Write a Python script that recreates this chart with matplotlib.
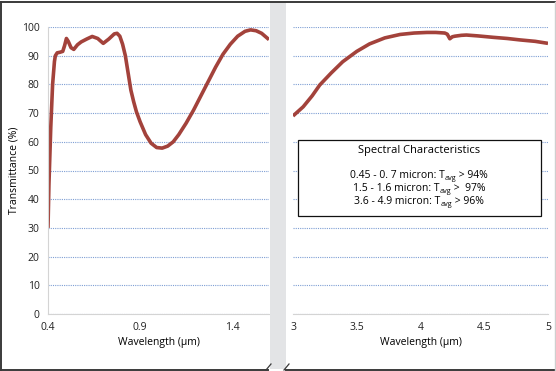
import matplotlib
matplotlib.use("Agg")
import matplotlib.pyplot as plt
from matplotlib.patches import Rectangle
from matplotlib.lines import Line2D

plt.rcParams['font.family'] = ['Open Sans', 'DejaVu Sans']

# visible / near-IR part
wl_vis = [0.40, 0.405, 0.415, 0.425, 0.435, 0.44, 0.45, 0.465, 0.48, 0.49, 0.50, 0.51,
          0.525, 0.54, 0.56, 0.58, 0.61, 0.64, 0.67, 0.70, 0.73, 0.76, 0.775, 0.79,
          0.805, 0.82, 0.835, 0.85, 0.865, 0.88, 0.90, 0.93, 0.96, 0.99, 1.02, 1.05,
          1.08, 1.11, 1.15, 1.19, 1.23, 1.27, 1.31, 1.35, 1.39, 1.43, 1.47, 1.50,
          1.53, 1.56, 1.60]
t_vis = [30, 45, 65, 80, 88, 90, 91, 91.2, 91.5, 93.5, 96, 95, 92.8, 92.2, 93.8, 94.8,
         95.8, 96.7, 96, 94.3, 95.8, 97.6, 97.8, 96.8, 94, 90, 84, 78, 74, 70.5, 67,
         62.5, 59.5, 58, 57.8, 58.5, 60, 62.5, 66.5, 71, 76, 81, 86, 90.5, 94, 96.8,
         98.5, 99, 98.7, 97.8, 95.6]

# mid-IR part
wl_ir = [3.0, 3.08, 3.15, 3.21, 3.3, 3.39, 3.5, 3.6, 3.72, 3.84, 3.95, 4.05, 4.12, 4.19,
         4.21, 4.23, 4.25, 4.27, 4.32, 4.36, 4.45, 4.57, 4.68, 4.78, 4.9, 5.0]
t_ir = [69, 72.2, 76, 79.8, 84, 87.9, 91.5, 94.1, 96.2, 97.4, 97.9, 98.1, 98.1, 97.9,
        97.5, 95.9, 96.6, 96.8, 97.1, 97.2, 96.9, 96.4, 96, 95.5, 95, 94.3]

yticks = list(range(0, 101, 10))
xticks_vis = [0.4, 0.9, 1.4]
xtick_labels_vis = ["0.4", "0.9", "1.4"]
xticks_ir = [3, 3.5, 4, 4.5, 5]
xtick_labels_ir = ["3", "3.5", "4", "4.5", "5"]

box_title = "Spectral Characteristics"
# each line: text before subscript, subscript, text after
box_lines = [("0.45 - 0. 7 micron: T", "avg", " > 94%"),
             ("1.5 - 1.6 micron: T", "avg", " >  97%"),
             ("3.6 - 4.9 micron: T", "avg", " > 96%")]

W, H = 556, 371
fig = plt.figure(figsize=(W / 100, H / 100), dpi=100)

def fx(px):
    return px / W

def fy(py):
    return 1 - py / H

line_col = "#a3423b"
grid_col = "#7f9fd4"
spine_col = "#d4d4d4"
tsize = 7.5

def style(ax):
    ax.set_ylim(0, 100)
    ax.set_yticks(yticks)
    ax.yaxis.grid(True, color=grid_col, linestyle=(0, (1, 1)), linewidth=0.8)
    ax.set_axisbelow(True)
    for s in ["top", "right"]:
        ax.spines[s].set_visible(False)
    ax.spines["bottom"].set_color(spine_col)
    ax.spines["left"].set_color(spine_col)
    ax.tick_params(length=0, labelsize=tsize, colors="#222222", pad=6)

ax1 = fig.add_axes([fx(48), fy(314), fx(221), (314 - 27) / H])
ax1.plot(wl_vis, t_vis, color=line_col, lw=2.6, solid_capstyle="butt")
style(ax1)
ax1.set_xlim(0.4, 1.6)
ax1.set_xticks(xticks_vis)
ax1.set_xticklabels(xtick_labels_vis)
ax1.set_xlabel("Wavelength (µm)", fontsize=tsize, labelpad=3)
ax1.set_ylabel("Transmittance (%)", fontsize=tsize, labelpad=2)

ax2 = fig.add_axes([fx(293), fy(314), fx(255), (314 - 27) / H])
ax2.plot(wl_ir, t_ir, color=line_col, lw=2.6, solid_capstyle="butt")
style(ax2)
ax2.spines["left"].set_visible(False)
ax2.set_xlim(3, 5)
ax2.set_xticks(xticks_ir)
ax2.set_xticklabels(xtick_labels_ir)
ax2.tick_params(axis="y", labelleft=False)
ax2.set_xlabel("Wavelength (µm)", fontsize=tsize, labelpad=3)

# gray break band between panels
fig.patches.append(Rectangle((fx(270), fy(369)), fx(16), (369 - 2) / H,
                             transform=fig.transFigure, facecolor="#e3e4e6",
                             edgecolor="none", zorder=0))

# outer frame
dark = "#3a3a3a"
fig.lines.append(Line2D([fx(1), fx(555)], [fy(1.5), fy(1.5)], color=dark, lw=1.4,
                        transform=fig.transFigure))
fig.lines.append(Line2D([fx(1), fx(1)], [fy(1.5), fy(369.5)], color=dark, lw=1.4,
                        transform=fig.transFigure))
fig.lines.append(Line2D([fx(1), fx(268)], [fy(369.5), fy(369.5)], color=dark, lw=1.4,
                        transform=fig.transFigure))
fig.lines.append(Line2D([fx(286), fx(555)], [fy(369.5), fy(369.5)], color=dark, lw=1.4,
                        transform=fig.transFigure))
fig.lines.append(Line2D([fx(554.5), fx(554.5)], [fy(1.5), fy(369.5)], color="#cfcfcf",
                        lw=1.0, transform=fig.transFigure))
for bx in (266, 284):
    fig.lines.append(Line2D([fx(bx), fx(bx + 5)], [fy(370), fy(364)], color=dark, lw=0.9,
                            transform=fig.transFigure))

# annotation box
fig.patches.append(Rectangle((fx(298), fy(215.5)), fx(242.5), (215.5 - 139.5) / H,
                             transform=fig.transFigure, facecolor="white",
                             edgecolor="#111111", lw=0.9, zorder=5))
fig.text(fx(419), fy(151), box_title, ha="center", va="center", fontsize=8, zorder=6)

# lines with a subscript, laid out piece by piece
renderer = fig.canvas.get_renderer()
cx = 419
for i, (pre, sub, post) in enumerate(box_lines):
    base = 178 + 13 * i
    parts = [(pre, 7.5, 0), (sub, 5.2, 2), (post, 7.5, 0)]
    texts = []
    for s, size, dy in parts:
        t = fig.text(0, fy(base + dy), s, ha="left", va="baseline", fontsize=size,
                     zorder=6)
        texts.append(t)
    widths = [t.get_window_extent(renderer).width for t in texts]
    x = cx - sum(widths) / 2
    for t, w in zip(texts, widths):
        t.set_x(fx(x))
        x += w

fig.savefig("out.png", dpi=100)
